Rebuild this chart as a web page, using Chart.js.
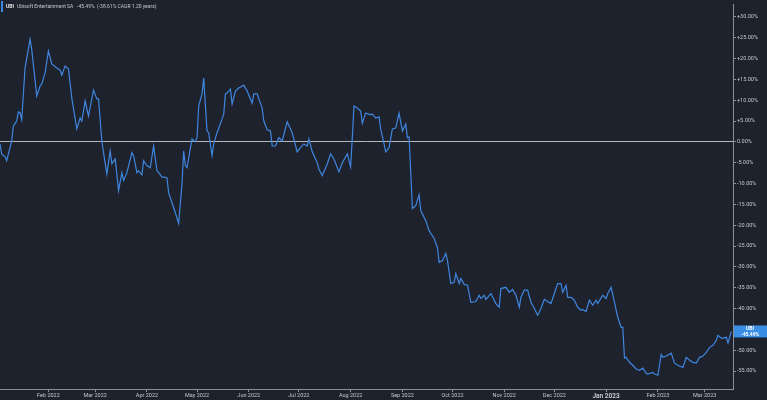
<!DOCTYPE html>
<html>
<head>
<meta charset="utf-8">
<script src="https://cdn.jsdelivr.net/npm/chart.js@4/dist/chart.umd.min.js"></script>
<style>
  html, body { margin: 0; padding: 0; background: #1e222d; }
  #wrap { width: 767px; height: 400px; position: relative; }
</style>
</head>
<body>
<div id="wrap"><canvas id="myChart"></canvas></div>
<script>
// days counted from 3 Jan 2022, value = % return since then
const days = [
  0, 1, 3, 4, 7, 8, 10, 11, 12, 13, 15, 18, 19, 22, 24, 25, 27, 29, 31, 34, 36, 37, 39, 41, 43, 46, 48, 49,
  51, 53, 56, 58, 59, 61, 62, 64, 66, 67, 69, 71, 73, 74, 76, 79, 80, 82, 83, 85, 86, 88, 90, 92, 94, 97,
  100, 101, 103, 105, 107, 109, 110, 111, 112, 115, 117, 118, 119, 121, 122, 124, 125, 127, 128, 130, 133,
  134, 135, 136, 138, 139, 141, 143, 146, 148, 151, 152, 154, 157, 158, 160, 162, 163, 165, 167, 169, 172,
  175, 178, 180, 182, 184, 185, 187, 190, 191, 193, 196, 198, 200, 203, 205, 208, 210, 211, 212, 214, 216,
  217, 219, 222, 223, 225, 227, 228, 230, 231, 233, 235, 237, 239, 241, 243, 244, 245, 247, 249, 251, 252,
  255, 257, 260, 262, 263, 265, 267, 268, 270, 272, 273, 275, 276, 278, 280, 282, 285, 287, 288, 290, 291,
  294, 297, 299, 300, 303, 305, 307, 309, 311, 312, 314, 316, 318, 320, 322, 324, 326, 328, 330, 332, 334,
  336, 337, 339, 340, 342, 344, 346, 348, 349, 351, 353, 355, 357, 358, 361, 363, 364, 366, 368, 370, 372,
  373, 374, 375, 377, 379, 381, 383, 385, 387, 388, 391, 392, 394, 396, 397, 399, 402, 404, 406, 409, 411,
  413, 415, 417, 419, 421, 423, 425, 427, 429, 430, 432, 433, 435, 436, 438
];
const returns = [
  -0.5, -2.9, -3.6, -4.5, 0.2, 3.8, 5, 7.2, 7, 5.3, 17.7, 24.6, 22.2, 11, 13.4, 13.9, 16.5, 21.8, 18.7, 17.7, 17.2, 16, 18.2, 17.5, 10.5, 3.1, 5.7, 5,
  9.8, 6.2, 12.4, 10.3, 10.3, 0.2, -2.6, -7.7, -2.2, -5.3, -4.1, -11.7, -7.4, -9.3, -7.4, -2.6, -3.3, -7.4, -6.9, -7.9, -4.5, -5.7, -6.2, -1, -6.9, -8.4,
  -8.6, -12.2, -14.6, -17, -19.6, -10, -2.2, -5.7, -6.2, 0.7, 0, 1, 8.6, 11.5, 15.3, 2.6, 2.2, -3.3, -0.5, 2.2, 5.5,
  6.7, 11.5, 11.7, 12.7, 9.1, 12.2, 12.9, 13.6, 12.2, 9.3, 11.5, 11.5, 8.1, 5, 2.9, 2.6, -1, -1, 1, 0.2, 4.8,
  2.2, -2.4, -1.4, -0.5, -1, 0.7, -2.4, -5, -6.5, -8.1, -5.3, -2.9, -4.1, -7.2, -5, -2.9, -6, 1, 8.6, 8.1, 7.4,
  4.5, 6.9, 6.5, 6.7, 5.7, 6, 3.1, -0.5, -2.4, -1.4, 3.1, 3.3, 6.9, 2.6, 4.3, 1, 1.2, -16, -15.3, -12.7, -16.5,
  -18.9, -21.3, -23.2, -25.4, -28.9, -28.5, -26.8, -28.5, -34, -33.7, -31.6, -34, -32.8, -34.2, -34.4, -38.5, -38.3, -36.8, -37.6, -36.8, -37.8,
  -36.4, -38.8, -39.7, -35.2, -34.9, -36.1, -35.4, -36.8, -39.7, -37.3, -35.6, -35.6, -38.5, -40, -41.6, -40, -37.8, -38.3, -38.8, -36.4, -34,
  -34, -36.1, -34.4, -37.3, -37.3, -38, -39.7, -40.4, -40.2, -40.7, -38, -39.2, -38, -38.8, -36.8, -37.6, -36.4, -34.9, -38.5, -42.1, -44.5,
  -44.5, -51.9, -51.7, -52.9, -53.6, -54.5, -54.8, -54.3, -55.5, -55.7, -55.3, -55.7, -56, -51, -51.7, -51.4, -50.7, -53.1, -53.6, -54.1, -51.7,
  -52.4, -52.9, -53.1, -51.7, -51.4, -50.5, -49.3, -48.8, -47.6, -46.4, -47.1, -47.1, -46.9, -48.3, -45.49
];
const monthLabels = ['Feb 2022', 'Mar 2022', 'Apr 2022', 'May 2022', 'Jun 2022', 'Jul 2022', 'Aug 2022',
  'Sep 2022', 'Oct 2022', 'Nov 2022', 'Dec 2022', 'Jan 2023', 'Feb 2023', 'Mar 2023'];
const monthDays = [29, 57, 88, 118, 149, 179, 210, 241, 271, 302, 332, 363, 394, 422];
const yTicks = [30, 25, 20, 15, 10, 5, 0, -5, -10, -15, -20, -25, -30, -35, -40, -45, -50, -55];

const blue = '#3f86e0';
const axisGrey = '#8a8e96';
const textGrey = '#c4c6cb';

const overlay = {
  id: 'overlay',
  afterDraw(chart) {
    const ctx = chart.ctx;
    const y = chart.scales.y;
    const last = returns[returns.length - 1];
    const yy = y.getPixelForValue(last);
    ctx.save();
    // last value tag
    ctx.fillStyle = '#3a8ee6';
    ctx.fillRect(y.left + 1, yy - 6, 33, 12);
    ctx.fillStyle = '#ffffff';
    ctx.font = 'bold 5px Roboto';
    ctx.textAlign = 'center';
    ctx.textBaseline = 'middle';
    ctx.fillText('UBI', y.left + 17, yy - 2.5);
    ctx.fillText(last.toFixed(2) + '%', y.left + 17, yy + 3);
    // legend
    ctx.fillStyle = blue;
    ctx.fillRect(1, 1, 2, 11);
    ctx.textAlign = 'left';
    ctx.textBaseline = 'middle';
    ctx.font = 'bold 5px Roboto';
    ctx.fillStyle = '#e6e6e6';
    ctx.fillText('UBI', 6, 6.5);
    ctx.font = '5px Roboto';
    ctx.fillStyle = textGrey;
    ctx.fillText('Ubisoft Entertainment SA', 17, 6.5);
    ctx.fillText('-45.49%', 77, 6.5);
    ctx.fillText('(-38.61% CAGR 1.20 years)', 97, 6.5);
    ctx.restore();
  }
};

new Chart(document.getElementById('myChart'), {
  type: 'line',
  data: {
    datasets: [{
      data: days.map((d, i) => ({ x: d, y: returns[i] })),
      borderColor: blue,
      borderWidth: 1.2,
      pointRadius: 0,
      tension: 0,
      fill: false
    }]
  },
  options: {
    responsive: true,
    maintainAspectRatio: false,
    animation: false,
    layout: { padding: 0 },
    plugins: { legend: { display: false }, tooltip: { enabled: false } },
    scales: {
      x: {
        type: 'linear',
        min: 0,
        max: 439,
        afterBuildTicks: s => { s.ticks = monthDays.map(v => ({ value: v })); },
        afterFit: s => { s.height = 11; },
        ticks: {
          autoSkip: false,
          maxRotation: 0,
          padding: 0,
          color: textGrey,
          font: c => (c.index === 11 ? { size: 6.5, family: 'Roboto', weight: 'bold' } : { size: 5.5, family: 'Roboto' }),
          callback: (v, i) => monthLabels[i]
        },
        grid: { drawOnChartArea: false, tickLength: 3, tickColor: axisGrey },
        border: { color: axisGrey }
      },
      y: {
        position: 'right',
        min: -59.3,
        max: 33.0,
        afterBuildTicks: s => { s.ticks = yTicks.map(v => ({ value: v })); },
        afterFit: s => { s.width = 34; },
        ticks: {
          padding: 1,
          color: textGrey,
          font: { size: 5.5, family: 'Roboto' },
          callback: v => (v > 0 ? '+' : '') + v.toFixed(2) + '%'
        },
        grid: {
          color: c => (c.tick && c.tick.value === 0 ? '#b4b7bd' : 'transparent'),
          tickColor: axisGrey,
          tickLength: 3
        },
        border: { color: axisGrey }
      }
    }
  },
  plugins: [overlay]
});
</script>
</body>
</html>
